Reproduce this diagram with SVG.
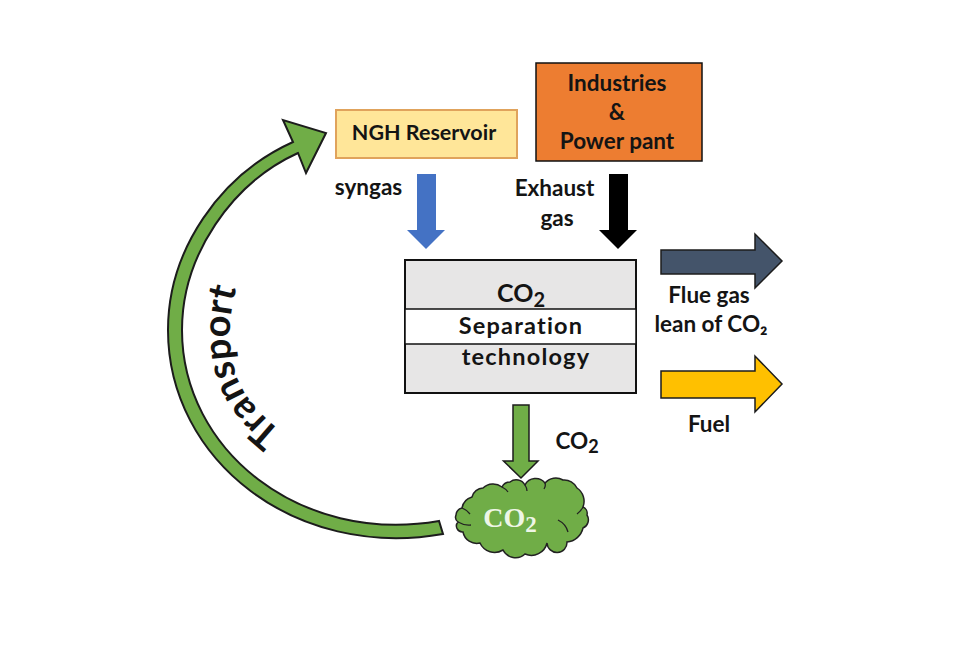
<svg xmlns="http://www.w3.org/2000/svg" width="980" height="654" viewBox="0 0 980 654">
<style>
text{font-family:Lato,"Open Sans",sans-serif;font-weight:700;fill:#141414;text-anchor:middle}
.l{font-size:22.5px}
.m{font-size:23.5px;letter-spacing:1.2px}
.a{stroke-width:1.5;stroke:#1c1c1c}
.b{fill:#e7e6e6;stroke:#111;stroke-width:2}
.crease{fill:none;stroke:#222;stroke-width:1.3}
</style>
<defs>
<path id="transport-baseline" d="M282 432C252 408 235 385 231 352C228 326 231 300 243 268"/>
</defs>
<rect width="980" height="654" fill="#fff"/>
<g id="connectors">
<path id="transport-arrow" fill="#70ad47" stroke="#1c1c1c" stroke-width="2" d="M443 534C295 560 168 460 168 330C168 250 220 175 293 142L283 120L326 133L306 173L298 153C232 183 182 255 182 330C182 450 300 545 439 521Z"/>
<path id="syngas-arrow" fill="#4472c4" d="M417 174H436V230H445L426 249L407 230H417Z"/>
<path id="exhaust-arrow" fill="#000" d="M609 174H628V230H637L618 249L599 230H609Z"/>
<path id="flue-arrow" class="a" fill="#44546a" d="M661 250H755V234L782 261L755 288V274H661Z"/>
<path id="fuel-arrow" class="a" fill="#ffc000" d="M661 371H755V356L782 384L755 412V398H661Z"/>
<path id="co2-arrow" class="a" fill="#70ad47" d="M513 405H529V461H538L521 478L503.500 461H513Z"/>
</g>
<g id="ngh-reservoir">
<rect x="336" y="110" width="181" height="48" fill="#ffe699" stroke="#e0a35c" stroke-width="2"/>
<text x="424" y="140" style="font-size:21.500px">NGH Reservoir</text>
</g>
<g id="industries">
<rect x="536" y="63" width="166" height="98" fill="#ed7d31" stroke="#111" stroke-width="1.500"/>
<text class="l" x="617" y="91">Industries</text>
<text class="l" x="617" y="120">&amp;</text>
<text class="l" x="617" y="149">Power pant</text>
</g>
<g id="separation">
<rect class="b" x="405" y="260" width="231" height="133"/>
<rect x="405" y="309" width="231" height="35" fill="#fff" stroke="#111" stroke-width="1.500"/>
<text x="521" y="302" style="font-size:25px">CO<tspan font-size="20" dy="5">2</tspan></text>
<text class="m" x="521" y="334">Separation</text>
<text class="m" x="526" y="365">technology</text>
</g>
<g id="co2-cloud">
<path fill="#70ad47" stroke="#222" stroke-width="1.500" d="M462 508A14 14 0 0 1 472 497A12 12 0 0 1 483 488A15 15 0 0 1 502 487A9 9 0 0 1 510 482A10 10 0 0 1 525 485A12 12 0 0 1 545 483A14 14 0 0 1 563 480A14 14 0 0 1 577 488A16 16 0 0 1 583 507A7 7 0 0 1 587 515A9 9 0 0 1 583 528A18 18 0 0 1 567 542A10 10 0 0 1 547 543A16 16 0 0 1 525 554A14 14 0 0 1 503 550A16 16 0 0 1 480 543A14 14 0 0 1 463 532A6 6 0 0 1 458 522A6 6 0 0 1 456 515A8 8 0 0 1 462 508Z"/>
<path class="crease" d="M462 508Q467 510 470 514M458 522Q465 526 471 525M502 487Q506 489 508 492M525 485Q527 488 527 491M545 483Q546 486 544 489M583 507Q581 511 577 514M558 520Q566 524 568 532"/>
<text x="510" y="527" style="font-family:'Liberation Serif',serif;font-size:28px;fill:#eef6e6">CO<tspan font-size="23" dy="5">2</tspan></text>
</g>
<g id="labels">
<text class="l" x="368.500" y="195">syngas</text>
<text class="l" x="554.500" y="196">Exhaust</text>
<text class="l" x="557" y="226">gas</text>
<text class="l" x="709" y="303">Flue gas</text>
<text class="l" x="711" y="332">lean of CO₂</text>
<text class="l" x="709" y="432">Fuel</text>
<text class="l" x="577" y="449">CO<tspan font-size="18" dy="4">2</tspan></text>
<text style="font-size:38px;text-anchor:start"><textPath href="#transport-baseline">Transport</textPath></text>
</g>
</svg>
